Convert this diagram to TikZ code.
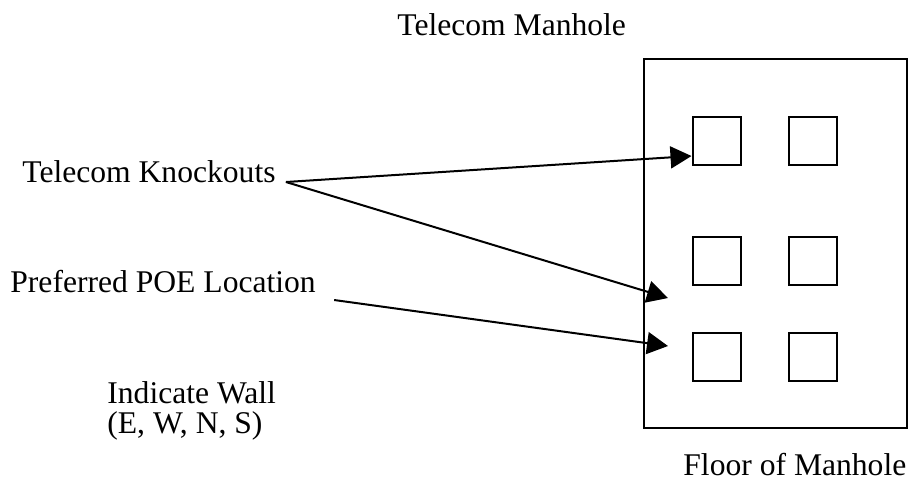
\documentclass[tikz,border=0pt]{standalone}
\usepackage{fontspec}
\setmainfont{Liberation Serif}
\usepackage{tikz}
\usetikzlibrary{arrows.meta, calc}
\tikzset{
  scritta/.style = {anchor = base west, inner sep = 0pt, font = \fontsize{15.8}{18}\selectfont},
  buco/.style = {draw, line width = 1pt, minimum size = 24pt, inner sep = 0pt},
  freccia/.style = {line width = 1pt, -{Triangle[length = 10.5pt, width = 11pt]}}
}

\begin{document}
\begin{tikzpicture}[x = 0.5pt, y = -0.5pt]
    % Parametri
    \pgfmathsetmacro{\colA}{716.5}
    \pgfmathsetmacro{\colB}{812.5}
    \useasboundingbox (0,0) rectangle (908,479);
    % Pozzetto
    \draw[line width = 1pt] (644,59) rectangle (907,428);
    \foreach \r/\y in {1/141, 2/261, 3/357} {
        \node[buco] (b\r a) at (\colA,\y) {};
        \node[buco] (b\r b) at (\colB,\y) {};
    }
    % Scritte
    \node[scritta] (titolo) at (397,35) {Telecom Manhole};
    \node[scritta] (ko) at (22,182) {Telecom Knockouts};
    \node[scritta] (poe) at (10,292) {Preferred POE Location};
    \node[scritta] (parete) at (107,403) {Indicate Wall};
    \node[scritta] (lati) at (107,433) {(E, W, N, S)};
    \node[scritta] (fondo) at (683,475) {Floor of Manhole};
    % Frecce
    \coordinate (koStart) at ([xshift = 5pt]ko.base east);
    \coordinate (poeStart) at ([xshift = 9pt, yshift = -4pt]poe.base east);
    \coordinate (punta1) at ([yshift = -7.5pt]b1a.west);
    \coordinate (punta2) at (668,298);
    \coordinate (punta3) at (668,346);
    \draw[freccia] (koStart) -- (punta1);
    \draw[freccia] (koStart) -- (punta2);
    \draw[freccia] (poeStart) -- (punta3);
\end{tikzpicture}
\end{document}
